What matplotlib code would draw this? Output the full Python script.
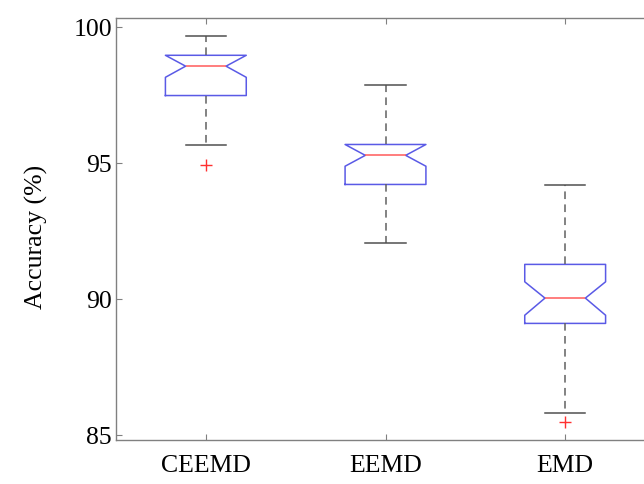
import matplotlib
matplotlib.use("Agg")
import matplotlib.pyplot as plt

# box statistics (accuracy in %)
methods = ["CEEMD", "EEMD", "EMD"]
medians = [98.57, 95.29, 90.04]
q1 = [97.49, 94.22, 89.11]
q3 = [98.97, 95.69, 91.28]
whislo = [95.66, 92.05, 85.83]
whishi = [99.68, 97.86, 94.20]
ci_lo = [98.16, 94.89, 89.41]
ci_hi = [98.97, 95.69, 90.64]
outliers = [[94.94], [], [85.47]]

plt.rcParams['font.family'] = ['Liberation Serif', 'DejaVu Serif']

stats = []
for i in range(len(methods)):
    stats.append(dict(label=methods[i], med=medians[i], q1=q1[i], q3=q3[i],
                      whislo=whislo[i], whishi=whishi[i],
                      cilo=ci_lo[i], cihi=ci_hi[i], fliers=outliers[i]))

fig = plt.figure(figsize=(6.44, 4.84), dpi=100)
# right edge of the axes runs off the picture, like the cropped original
ax = fig.add_axes([116/644, 1-439.5/484, 539/644, 422/484])

ax.bxp(stats, positions=[1, 2, 3], widths=0.45, shownotches=True,
       boxprops=dict(color='#5a5ae6', lw=1.1),
       medianprops=dict(color='#ff5a5a', lw=1.1),
       whiskerprops=dict(color='#606060', lw=1.1, linestyle=(0, (5, 3.5))),
       capprops=dict(color='#505050', lw=1.1),
       flierprops=dict(marker='+', markeredgecolor='#ff3030', markersize=8,
                       markeredgewidth=1.0, linestyle='none'))

ax.set_xlim(0.5, 3.5)
ax.set_ylim(84.84, 100.36)
ax.set_yticks([85, 90, 95, 100])
ax.set_xticks([1, 2, 3])
ax.set_xticklabels(methods)

for s in ax.spines.values():
    s.set_color('#808080')
    s.set_linewidth(1.0)
ax.tick_params(axis='both', direction='in', color='#808080', length=4,
               top=True, right=True, labelsize=18.5)
ax.tick_params(axis='x', pad=11)
ax.tick_params(axis='y', pad=3)

ax.set_ylabel('Accuracy (%)', fontsize=18.5)
ax.yaxis.set_label_coords(-0.126, 0.48)

fig.savefig('out.png', dpi=100)
